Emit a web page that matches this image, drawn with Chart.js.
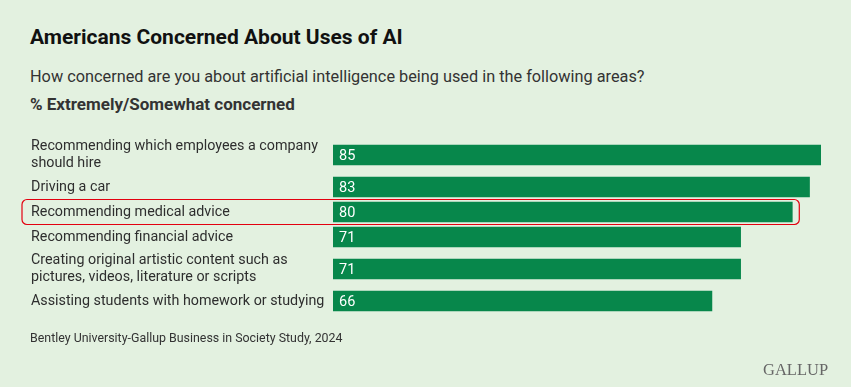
<!DOCTYPE html>
<html>
<head>
<meta charset="utf-8">
<script src="https://cdn.jsdelivr.net/npm/chart.js@4.4.6/dist/chart.umd.js"></script>
<style>
  html, body { margin: 0; padding: 0; }
  body {
    width: 851px; height: 387px; overflow: hidden; position: relative;
    background: #e3f1e0; font-family: Roboto, "Noto Sans", sans-serif; color: #222;
  }
  .txt { position: absolute; left: 30px; white-space: nowrap; }
  #title { top: 25px; font-size: 21px; line-height: 24px; font-weight: 700; color: #111; }
  #sub { top: 67px; font-size: 16.3px; line-height: 20px; color: #333; }
  #unit { top: 94px; font-size: 17px; line-height: 20px; font-weight: 700; color: #333; }
  #source { top: 330px; font-size: 12.4px; line-height: 16px; color: #333; }
  #logo { left: 763px; top: 361px; font-family: "Liberation Serif", "DejaVu Serif", serif; font-size: 16.5px; line-height: 18px; color: #666; }
  #chart { position: absolute; left: 0; top: 0; }
</style>
</head>
<body>
<div class="txt" id="title">Americans Concerned About Uses of AI</div>
<div class="txt" id="sub">How concerned are you about artificial intelligence being used in the following areas?</div>
<div class="txt" id="unit">% Extremely/Somewhat concerned</div>
<canvas id="chart" width="851" height="387"></canvas>
<div class="txt" id="source">Bentley University-Gallup Business in Society Study, 2024</div>
<div class="txt" id="logo">GALLUP</div>
<script>
const categories = [
  ['Recommending which employees a company', 'should hire'],
  ['Driving a car'],
  ['Recommending medical advice'],
  ['Recommending financial advice'],
  ['Creating original artistic content such as', 'pictures, videos, literature or scripts'],
  ['Assisting students with homework or studying']
];
const concerned = [85, 83, 80, 71, 71, 66];
const highlightRow = 2;

const barColor = '#07874b';
const labelColor = '#2e2e2e';
const fontFamily = 'Roboto, "Noto Sans", sans-serif';

// rows with two-line labels take more room than single-line ones
const rowHeights = categories.map((lines) => 11 + 14 * lines.length);
const rowCenters = [];
rowHeights.reduce((top, h) => {
  rowCenters.push(top + h / 2);
  return top + h;
}, 0);
const totalHeight = rowHeights.reduce((a, b) => a + b, 0);

const barLabels = {
  id: 'barLabels',
  afterDatasetsDraw(chart) {
    const { ctx } = chart;
    const meta = chart.getDatasetMeta(0);
    ctx.save();
    ctx.fillStyle = '#ffffff';
    ctx.font = `14.5px ${fontFamily}`;
    ctx.textAlign = 'left';
    ctx.textBaseline = 'middle';
    meta.data.forEach((bar, i) => {
      ctx.fillText(String(concerned[i]), bar.base + 6, bar.y + 1);
    });
    ctx.restore();
  }
};

const highlight = {
  id: 'highlight',
  afterDatasetsDraw(chart) {
    const { ctx, scales } = chart;
    const bar = chart.getDatasetMeta(0).data[highlightRow];
    const half = rowHeights[highlightRow] / 2;
    const top = scales.y.getPixelForValue(rowCenters[highlightRow] - half);
    const bottom = scales.y.getPixelForValue(rowCenters[highlightRow] + half);
    const left = scales.y.left - 9;
    const right = bar.x + 7;
    ctx.save();
    ctx.strokeStyle = '#e3000f';
    ctx.lineWidth = 1.2;
    ctx.beginPath();
    ctx.roundRect(left, top, right - left, bottom - top, 5);
    ctx.stroke();
    ctx.restore();
  }
};

new Chart(document.getElementById('chart'), {
  type: 'bar',
  data: {
    datasets: [{
      data: concerned.map((v, i) => ({ x: v, y: rowCenters[i] })),
      backgroundColor: barColor,
      barThickness: 20,
      borderWidth: 0
    }]
  },
  options: {
    indexAxis: 'y',
    responsive: false,
    animation: false,
    layout: { padding: { left: 31, right: 30, top: 135.5, bottom: 73.5 } },
    scales: {
      x: { type: 'linear', min: 0, max: 85, display: false },
      y: {
        type: 'linear',
        offset: false,
        reverse: true,
        min: 0,
        max: totalHeight,
        grid: { display: false },
        border: { display: false },
        afterBuildTicks: (scale) => {
          scale.ticks = rowCenters.map((v) => ({ value: v }));
        },
        afterFit: (scale) => {
          scale.width = 302;
          scale.paddingTop = 0;
          scale.paddingBottom = 0;
        },
        ticks: {
          autoSkip: false,
          crossAlign: 'far',
          color: labelColor,
          font: { family: fontFamily, size: 14.3, lineHeight: 1.16 },
          callback: (value, index) => categories[index]
        }
      }
    },
    plugins: {
      legend: { display: false },
      tooltip: { enabled: false }
    }
  },
  plugins: [barLabels, highlight]
});
</script>
</body>
</html>
